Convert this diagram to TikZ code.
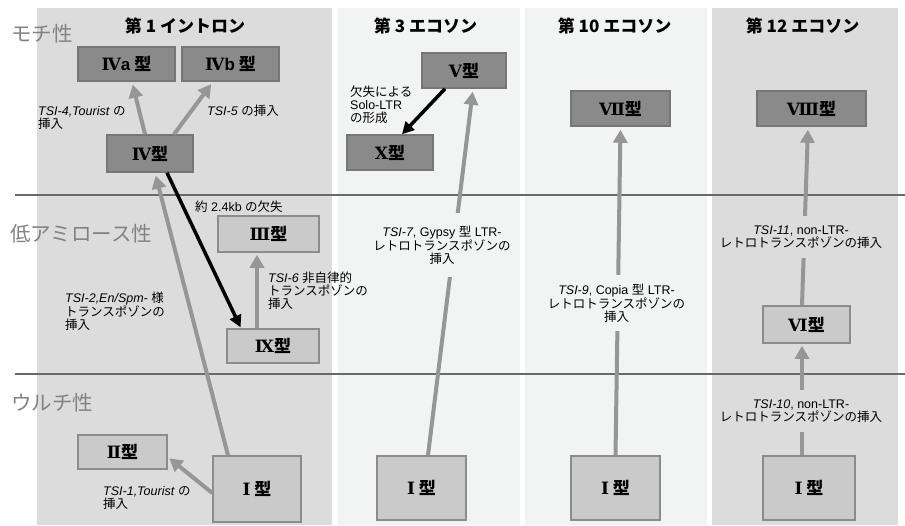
\documentclass[tikz,border=0pt]{standalone}
\usepackage{fontspec}
\setmainfont{Liberation Sans}
\newfontfamily\jp{Noto Sans CJK JP}
\newfontfamily\rn{DejaVu Serif}
\usetikzlibrary{arrows.meta}
\definecolor{panelA}{RGB}{220,220,220}
\definecolor{panelB}{RGB}{242,243,243}
\definecolor{darkfill}{RGB}{138,138,138}
\definecolor{darkline}{RGB}{118,118,118}
\definecolor{lightfill}{RGB}{202,202,202}
\definecolor{lightline}{RGB}{140,140,140}
\definecolor{arrowgray}{RGB}{150,150,150}
\definecolor{rulegray}{RGB}{105,105,105}
\definecolor{rowgray}{RGB}{130,130,130}
\newcommand\J[1]{{\jp #1}}
\newcommand\R[1]{{\rn #1}}
\begin{document}
\begin{tikzpicture}[x=1pt,y=-1pt,
  darkbox/.style={draw=darkline,line width=1.5pt,fill=darkfill,inner sep=0pt,text=black,font=\jp\fontsize{17}{17}\selectfont\bfseries},
  lightbox/.style={draw=lightline,line width=1.5pt,fill=lightfill,inner sep=0pt,font=\jp\fontsize{17}{17}\selectfont\bfseries},
  garrow/.style={draw=arrowgray,line width=4pt,-{Triangle[length=13pt,width=14pt]}},
  barrow/.style={draw=black,line width=3.5pt,-{Triangle[length=12pt,width=12pt]}},
  lbl/.style={inner sep=0pt,font=\fontsize{12.5}{13}\selectfont},
  rowlbl/.style={inner sep=0pt,anchor=west,text=rowgray,font=\jp\fontsize{20.5}{20.5}\selectfont},
  coltitle/.style={inner sep=0pt,font=\jp\fontsize{17}{17}\selectfont\bfseries},
  rule/.style={draw=rulegray,line width=2.5pt}]
\useasboundingbox (0,0) rectangle (905,525);
% panels
\fill[panelA] (37,8) rectangle (332,525);
\fill[panelB] (338,8) rectangle (520,525);
\fill[panelB] (525,8) rectangle (707,525);
\fill[panelA] (712,8) rectangle (898,525);
% horizontal rules
\draw[rule] (15,195) -- (905,195);
\draw[rule] (15,374) -- (905,374);
% row labels
\node[rowlbl] (r1) at (11,33.5) {モチ性};
\node[rowlbl] (r2) at (10,234) {低アミロース性};
\node[rowlbl] (r3) at (11,403) {ウルチ性};
% column titles
\node[coltitle] (c1) at (185,25.5) {第 1 イントロン};
\node[coltitle] (c2) at (425.5,25.5) {第 3 エコソン};
\node[coltitle] (c3) at (614.5,25.5) {第 10 エコソン};
\node[coltitle] (c4) at (802.5,25.5) {第 12 エコソン};
% boxes
\node[darkbox,minimum width=97,minimum height=34] (IVa) at (126.5,64) {\R{Ⅳ}{\rmfamily a} 型};
\node[darkbox,minimum width=97,minimum height=34] (IVb) at (230.5,64) {\R{Ⅳ}{\rmfamily b} 型};
\node[darkbox,minimum width=86,minimum height=37] (IV) at (150,153.5) {\R{Ⅳ}型};
\node[darkbox,minimum width=84,minimum height=35] (V) at (464,70.5) {\R{Ⅴ}型};
\node[darkbox,minimum width=86,minimum height=35] (X) at (390,152.5) {\R{Ⅹ}型};
\node[darkbox,minimum width=99,minimum height=35] (VII) at (620.5,108.5) {\R{Ⅶ}型};
\node[darkbox,minimum width=109,minimum height=35] (VIII) at (811.5,108.5) {\R{Ⅷ}型};
\node[lightbox,minimum width=101,minimum height=36] (III) at (268.5,234) {\R{Ⅲ}型};
\node[lightbox,minimum width=92,minimum height=34] (IX) at (273,346) {\R{Ⅸ}型};
\node[lightbox,minimum width=87,minimum height=37] (VI) at (806.5,324.5) {\R{Ⅵ}型};
\node[lightbox,minimum width=89,minimum height=34] (II) at (122.5,452) {\R{Ⅱ}型};
\node[lightbox,minimum width=88,minimum height=66] (I1) at (257,489) {\R{Ⅰ} 型};
\node[lightbox,minimum width=89,minimum height=64] (I2) at (421.5,488) {\R{Ⅰ} 型};
\node[lightbox,minimum width=89,minimum height=64] (I3) at (615.5,488) {\R{Ⅰ} 型};
\node[lightbox,minimum width=92,minimum height=64] (I4) at (809,488) {\R{Ⅰ} 型};
% arrows
\draw[garrow,shorten >=3pt] ([xshift=-5]IV.north) -- ([xshift=5.5]IVa.south);
\draw[garrow,shorten >=3pt] ([xshift=24]IV.north) -- ([xshift=-17.5]IVb.south);
\draw[garrow,shorten >=3pt] ([xshift=-29]I1.north) -- ([xshift=5]IV.south);
\draw[barrow,shorten >=1pt] ([xshift=17]IV.south) -- ([xshift=-32]IX.north);
\draw[garrow,shorten >=2pt] ([xshift=-16]IX.north) -- ([xshift=-16]IX.north |- III.south);
\draw[garrow,shorten >=2pt] ([yshift=-4]I1.west) -- ([yshift=-5]II.east);
\draw[barrow] ([xshift=-19]V.south) -- ([xshift=12]X.north);
\draw[garrow,shorten >=3pt] ([xshift=6.5]I2.north) -- ([xshift=9]V.south);
\draw[garrow,shorten >=3pt] (I3.north) -- (VII.south);
\draw[garrow,shorten >=2pt] ([xshift=-7]I4.north) -- ([xshift=-4.5]VI.south);
\draw[garrow,shorten >=3pt] ([xshift=-4.5]VI.north) -- ([xshift=-3.5]VIII.south);
% labels
\node[lbl,anchor=north west,align=left] (l4) at (38,106) {\textit{TSI-4,Tourist} \J{の}\\\J{挿入}};
\node[lbl,anchor=north west,align=left] (l5) at (207,105) {\textit{TSI-5} \J{の挿入}};
\node[lbl,anchor=north west,align=left] (lsolo) at (350,86) {\J{欠失による}\\Solo-LTR\\\J{の形成}};
\node[lbl,anchor=north west,align=left] (ldel) at (195,201) {\J{約} 2.4kb \J{の欠失}};
\node[lbl,anchor=north west,align=left] (l6) at (268,272) {\textit{TSI-6} \J{非自律的}\\\J{トランスポゾンの}\\\J{挿入}};
\node[lbl,anchor=north west,align=left] (l2) at (65,292) {\textit{TSI-2,En/Spm-} \J{様}\\\J{トランスポゾンの}\\\J{挿入}};
\node[lbl,anchor=north west,align=left] (l1) at (103,486) {\textit{TSI-1,Tourist} \J{の}\\\J{挿入}};
\node[lbl,align=center,fill=panelB,inner xsep=4pt,inner ysep=13pt] (l7) at (442,245) {\textit{TSI-7}, Gypsy \J{型} LTR-\\\J{レトロトランスポゾンの}\\\J{挿入}};
\node[lbl,align=center,fill=panelB,inner xsep=4pt,inner ysep=9pt] (l9) at (616.5,303) {\textit{TSI-9}, Copia \J{型} LTR-\\\J{レトロトランスポゾンの}\\\J{挿入}};
\node[lbl,align=center,fill=panelA,inner xsep=4pt,inner ysep=10pt] (l11) at (801,237) {\textit{TSI-11}, non-LTR-\\\J{レトロトランスポゾンの挿入}};
\node[lbl,align=center,fill=panelA,inner xsep=4pt,inner ysep=10pt] (l10) at (801,411) {\textit{TSI-10}, non-LTR-\\\J{レトロトランスポゾンの挿入}};
\end{tikzpicture}
\end{document}
